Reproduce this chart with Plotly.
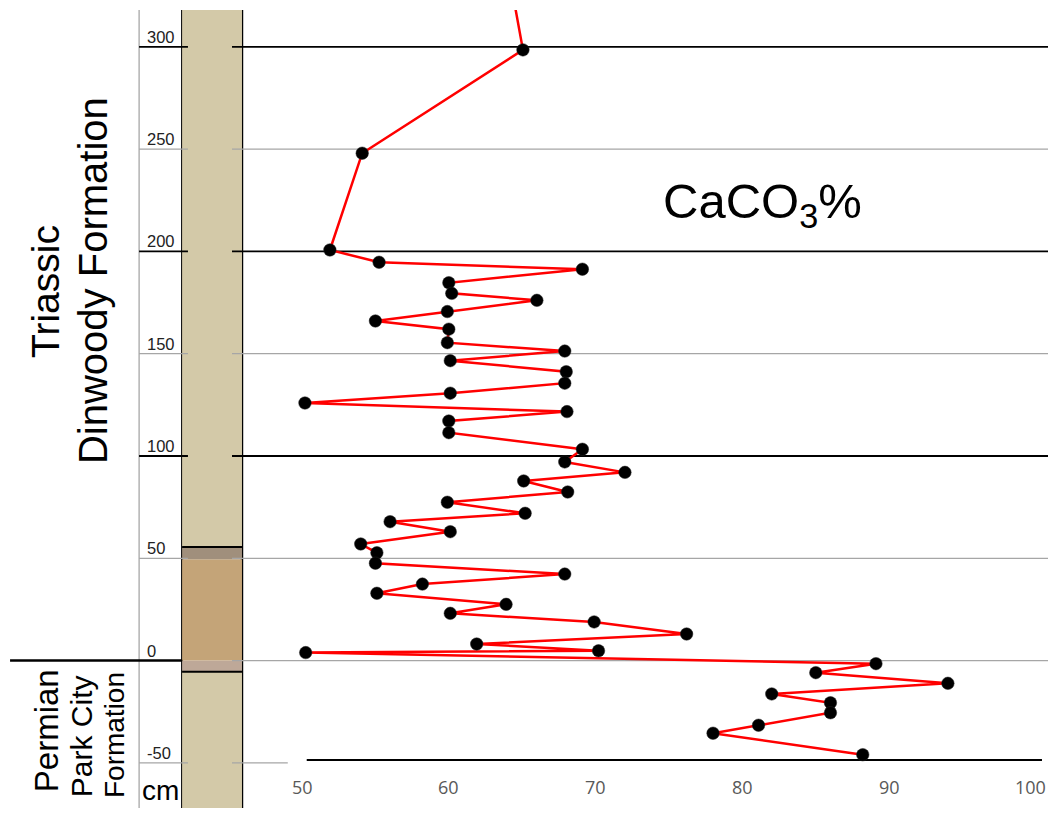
import plotly.graph_objects as go

# ---------------- data ----------------
depth_cm = [340, 298.5, 248.0, 200.7, 194.7, 191.3, 184.7, 179.5, 176.1, 170.6,
            166.0, 162.0, 155.4, 151.3, 146.6, 141.2, 135.6, 130.7, 125.9, 121.7,
            117.1, 111.4, 103.3, 97.1, 92.0, 87.8, 82.4, 77.4, 72.0, 67.9,
            63.0, 57.0, 52.7, 47.6, 42.3, 37.4, 32.9, 27.5, 23.1, 18.9,
            13.0, 8.1, 4.8, 3.9, -1.5, -5.9, -11.1, -16.3, -20.6, -25.5,
            -31.6, -35.5, -46.0]
caco3_pct = [64.0, 65.05, 54.1, 51.9, 55.25, 69.1, 60.0, 60.2, 66.0, 59.9,
             55.0, 60.0, 59.9, 67.9, 60.1, 68.0, 67.9, 60.1, 50.2, 68.05,
             60.0, 60.0, 69.1, 67.9, 72.0, 65.1, 68.1, 59.9, 65.2, 56.0,
             60.1, 54.0, 55.1, 55.0, 67.9, 58.2, 55.1, 63.9, 60.1, 69.9,
             76.2, 61.9, 70.2, 50.25, 89.1, 85.0, 94.0, 82.0, 86.0, 86.0,
             81.1, 78.0, 88.2]

y_tick_vals = [300, 250, 200, 150, 100, 50, 0, -50]
y_tick_text = ["300", "250", "200", "150", "100", "50", "0", "-50"]
major_y = [300, 200, 100]
x_tick_vals = [50, 60, 70, 80, 90, 100]
x_tick_text = ["50", "60", "70", "80", "90", "100"]

# stratigraphic column layers
layer_bottom = [-90, -5.4, 0, 49.5, 55.5]
layer_top = [-5.4, 0, 49.5, 55.5, 330]
layer_color = ["#D3C9A8", "#BEA898", "#C4A478", "#A08F7C", "#D3C9A8"]
contacts = [-5.4, 55.5]

# ---------------- geometry (axis units) ----------------
X_MIN, X_MAX = 29.97, 100.82
Y_MIN, Y_MAX = -72.05, 318.0
COL_L, COL_R = 41.83, 45.91
GRID_L, GRID_LR = 38.90, 42.23
GRID_RL, GRID_R = 45.23, X_MAX
AXIS_Y = -48.6

fig = go.Figure()

fig.add_trace(go.Scatter(
    x=caco3_pct, y=depth_cm, mode="lines+markers",
    line=dict(color="#FF0000", width=2.5),
    marker=dict(color="black", size=12.5, line=dict(color="#222", width=0.5)),
    showlegend=False, hoverinfo="x+y"))

shapes = []
for b, t, c in zip(layer_bottom, layer_top, layer_color):
    shapes.append(dict(type="rect", xref="x", yref="y", x0=COL_L, x1=COL_R,
                       y0=b, y1=t, fillcolor=c, line=dict(width=0), layer="below"))
for v in y_tick_vals:
    major = v in major_y
    col = "black" if major else "#A6A6A6"
    w = 1.8 if major else 1.2
    right_end = 49.03 if v == -50 else GRID_R
    if v != 0:
        shapes.append(dict(type="line", xref="x", yref="y", x0=GRID_L, x1=GRID_LR,
                           y0=v, y1=v, line=dict(color=col, width=w), layer="below"))
    shapes.append(dict(type="line", xref="x", yref="y", x0=GRID_RL, x1=right_end,
                       y0=v, y1=v, line=dict(color=col, width=w), layer="below"))
shapes.append(dict(type="line", xref="x", yref="y", x0=30.11, x1=COL_L,
                   y0=0, y1=0, line=dict(color="black", width=2.5), layer="below"))
for v in contacts:
    shapes.append(dict(type="line", xref="x", yref="y", x0=COL_L, x1=COL_R,
                       y0=v, y1=v, line=dict(color="black", width=2), layer="below"))
shapes.append(dict(type="line", xref="x", yref="y", x0=50.32, x1=100.41,
                   y0=AXIS_Y, y1=AXIS_Y, line=dict(color="black", width=2), layer="below"))
shapes.append(dict(type="line", xref="x", yref="paper", x0=GRID_L, x1=GRID_L,
                   y0=0, y1=1, line=dict(color="#8C8C8C", width=1), layer="below"))
shapes.append(dict(type="line", xref="x", yref="paper", x0=COL_L, x1=COL_L,
                   y0=0, y1=1, line=dict(color="black", width=2), layer="below"))
shapes.append(dict(type="line", xref="x", yref="paper", x0=COL_R, x1=COL_R,
                   y0=0, y1=1, line=dict(color="black", width=2.5), layer="below"))

ann = []
for v, t in zip(y_tick_vals, y_tick_text):
    ann.append(dict(x=39.31, y=v, xref="x", yref="y", text=t, showarrow=False,
                    xanchor="left", yanchor="bottom", yshift=-1,
                    font=dict(family="Liberation Sans, Arial", size=16.5, color="#222")))
for v, t in zip(x_tick_vals, x_tick_text):
    last = (v == x_tick_vals[-1])
    ann.append(dict(x=(X_MAX if last else v), y=-61.6, xref="x", yref="y", text=t,
                    showarrow=False, xanchor=("right" if last else "center"),
                    yanchor="middle",
                    font=dict(family="Open Sans", size=18, color="#595959")))

big = "Liberation Sans, Arial"
ann += [
    dict(x=81.4, y=222.7, text="CaCO<sub>3</sub>%", font=dict(family=big, size=49, color="black")),
    dict(x=32.56, y=180.2, text="Triassic", textangle=-90, font=dict(family=big, size=39, color="black")),
    dict(x=35.76, y=186.0, text="Dinwoody Formation", textangle=-90, font=dict(family=big, size=40, color="black")),
    dict(x=32.56, y=-34.5, text="Permian", textangle=-90, font=dict(family=big, size=33, color="black")),
    dict(x=34.95, y=-36.9, text="Park City", textangle=-90, font=dict(family=big, size=30, color="black")),
    dict(x=37.19, y=-36.4, text="Formation", textangle=-90, font=dict(family=big, size=28, color="black")),
    dict(x=40.33, y=-63.7, text="cm", font=dict(family=big, size=28, color="black")),
]
for a in ann[-7:]:
    a.update(xref="x", yref="y", showarrow=False, xanchor="center", yanchor="middle")

fig.update_layout(
    width=1040, height=800,
    margin=dict(l=0, r=0, t=2, b=0),
    paper_bgcolor="white", plot_bgcolor="white",
    xaxis=dict(range=[X_MIN, X_MAX], visible=False, fixedrange=True),
    yaxis=dict(range=[Y_MIN, Y_MAX], visible=False, fixedrange=True),
    shapes=shapes, annotations=ann, showlegend=False,
)

fig.write_html("out.html")
